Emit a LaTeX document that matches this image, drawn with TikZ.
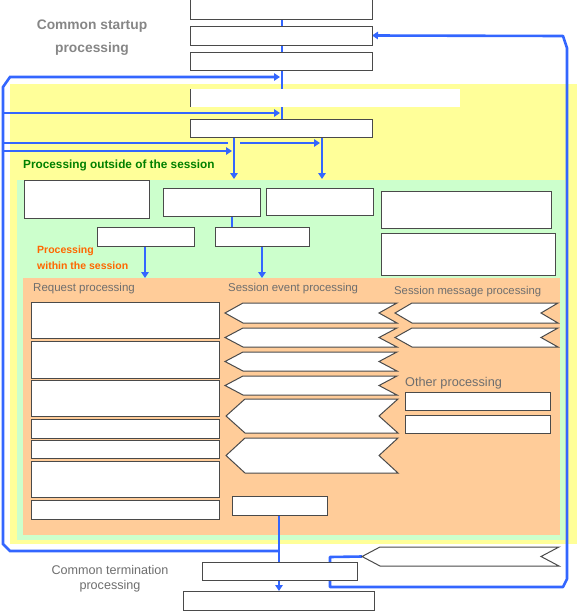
\documentclass[tikz,border=0pt]{standalone}
\usepackage{fontspec}
\setmainfont{Liberation Sans}
\usetikzlibrary{arrows.meta}
\definecolor{flow}{HTML}{3366FF}
\definecolor{ylw}{HTML}{FFFF99}
\definecolor{grn}{HTML}{CCFFCC}
\definecolor{org}{HTML}{FFCC99}
\definecolor{lblgray}{HTML}{6E6E6E}
\definecolor{lbllight}{HTML}{868686}
\definecolor{lblgreen}{HTML}{008000}
\definecolor{lblorange}{HTML}{FF6600}
\definecolor{edge}{HTML}{4A4A4A}
\pgfdeclarelayer{back}
\pgfdeclarelayer{mid}
\pgfsetlayers{back,mid,main}
\tikzset{
  region/.style={draw=none, anchor=north west, inner sep=0pt, outer sep=0pt},
  box/.style={draw=edge, line width=1pt, fill=white, anchor=north west, inner sep=0pt, outer sep=0pt},
  chev/.style={draw=edge, line width=1pt, fill=white, line join=miter},
  flowline/.style={draw=flow, line width=2.6pt},
  flowarrow/.style={flowline, -{Triangle[length=6pt,width=7.5pt]}},
  lbl/.style={text=lblgray, inner sep=0pt, anchor=base west},
}
\newcommand\chevpath[5]{\draw[chev] (#1,{(#3+#4)/2}) -- ({#1+#5},#3) -- (#2,#3) -- ({#2-#5},{(#3+#4)/2}) -- (#2,#4) -- ({#1+#5},#4) -- cycle;}
\begin{document}
\begin{tikzpicture}[x=1pt,y=-1pt]
\useasboundingbox (0,0) rectangle (577,611);
% ---------- background regions
\begin{pgfonlayer}{back}
\node[region, fill=ylw, minimum width=567pt, minimum height=460pt] (ylwreg) at (10,84) {};
\node[region, fill=grn, minimum width=548pt, minimum height=360pt] (grnreg) at (17,180) {};
\node[region, fill=org, minimum width=537pt, minimum height=257pt] (orgreg) at (23,278) {};
\end{pgfonlayer}
% ---------- common startup boxes
\node[box, minimum width=182pt, minimum height=21pt] (t1) at (190,-2) {};
\node[box, minimum width=182pt, minimum height=19pt] (t2) at (190,26) {};
\node[box, minimum width=182pt, minimum height=18pt] (t3) at (190,52) {};
\node[box, draw=none, minimum width=270pt, minimum height=18pt] (t4) at (190,89) {};
\draw[edge, line width=1pt] (t4.north west) -- (t4.south west);
\node[box, minimum width=182pt, minimum height=18pt] (t5) at (190,119) {};
% ---------- outside the session
\node[box, minimum width=125pt, minimum height=38pt] (g1) at (24,180) {};
\node[box, minimum width=97pt, minimum height=28pt] (g2) at (163,188) {};
\node[box, minimum width=107pt, minimum height=27pt] (g3) at (266,188) {};
\node[box, minimum width=170pt, minimum height=37pt] (g4) at (381,191) {};
\node[box, minimum width=174pt, minimum height=42pt] (g5) at (381,233) {};
\node[box, minimum width=97pt, minimum height=19pt] (g6) at (97,227) {};
\node[box, minimum width=94pt, minimum height=19pt] (g7) at (215,227) {};
% ---------- request processing
\node[box, minimum width=188pt, minimum height=36pt] (r1) at (31,302) {};
\node[box, minimum width=188pt, minimum height=37pt] (r2) at (31,341) {};
\node[box, minimum width=188pt, minimum height=36pt] (r3) at (31,380) {};
\node[box, minimum width=188pt, minimum height=19pt] (r4) at (31,419) {};
\node[box, minimum width=188pt, minimum height=18pt] (r5) at (31,440) {};
\node[box, minimum width=188pt, minimum height=36pt] (r6) at (31,461) {};
\node[box, minimum width=188pt, minimum height=19pt] (r7) at (31,500) {};
% ---------- session events
\chevpath{225}{397}{303}{323}{18}
\chevpath{225}{397}{328}{347}{18}
\chevpath{225}{397}{352}{371}{18}
\chevpath{225}{397}{376}{395}{18}
\chevpath{226}{398}{399}{433}{19}
\chevpath{226}{398}{438}{473}{19}
\node[box, minimum width=95pt, minimum height=19pt] (s) at (232,496) {};
% ---------- session messages
\chevpath{395}{558}{303}{323}{17}
\chevpath{395}{558}{328}{347}{17}
% ---------- other processing
\node[box, minimum width=145pt, minimum height=18pt] (o1) at (405,392) {};
\node[box, minimum width=145pt, minimum height=18pt] (o2) at (405,415) {};
% ---------- termination
\chevpath{362}{559}{547}{566}{18}
\coordinate (bct) at (362,556.5);
\node[box, minimum width=155pt, minimum height=18pt] (tb1) at (202,562) {};
\node[box, minimum width=191pt, minimum height=19pt] (tb2) at (183,591) {};
% ---------- labels
\node[lbl, text=lbllight, anchor=base, font=\bfseries\fontsize{13.8}{16}\selectfont] (st1) at (92,29) {Common startup};
\node[lbl, text=lbllight, anchor=base, font=\bfseries\fontsize{13.8}{16}\selectfont] (st2) at (92,52) {processing};
\node[lbl, text=lblgray, anchor=base, font=\fontsize{12.6}{15}\selectfont] (te1) at (110,574.5) {Common termination};
\node[lbl, text=lblgray, anchor=base, font=\fontsize{12.6}{15}\selectfont] (te2) at (110,589.5) {processing};
\node[lbl, text=lblgreen, font=\bfseries\fontsize{11.8}{14}\selectfont] (outl) at (23,168) {Processing outside of the session};
\node[lbl, text=lblorange, font=\bfseries\fontsize{10.5}{13}\selectfont] (in1) at (37,253) {Processing};
\node[lbl, text=lblorange, font=\bfseries\fontsize{10.5}{13}\selectfont] (in2) at (37,269) {within the session};
\node[lbl, font=\fontsize{11.5}{14}\selectfont] (reql) at (33,291.5) {Request processing};
\node[lbl, font=\fontsize{11.4}{14}\selectfont] (sevl) at (228,291) {Session event processing};
\node[lbl, font=\fontsize{11.3}{14}\selectfont] (smsl) at (394,294) {Session message processing};
\node[lbl, font=\fontsize{12.7}{15}\selectfont] (othl) at (405,386) {Other processing};
% ---------- helper x positions
\coordinate (xc) at (282,0);
\coordinate (xa) at (234,0);
\coordinate (xb) at (322,0);
\coordinate (xg2) at (232,0);
\coordinate (xg6) at (145,0);
\coordinate (xg7) at (262,0);
\coordinate (xs) at (279,0);
\coordinate (jL) at (279,551);
% ---------- flow lines
\begin{pgfonlayer}{mid}
\draw[flowline] (t1.south -| xc) -- (t5.north -| xc);
\draw[flowarrow, shorten >=1pt] (t5.south -| xa) -- (grnreg.north -| xa);
\draw[flowarrow, shorten >=1pt] (t5.south -| xb) -- (grnreg.north -| xb);
\draw[flowarrow] (jL) -- (10,551) -- (3,544) -- (3,87) -- (10,77) -- (280,77);
\draw[flowarrow] (3,113) -- (280,113);
\draw[flowline] (3,143) -- (228,143);
\draw[flowarrow] (240,143) -- (320,143);
\draw[flowarrow] (3,151) -- (232,151);
\draw[flowline] (g2.south -| xg2) -- (g7.north -| xg2);
\draw[flowarrow] (g6.south -| xg6) -- (orgreg.north -| xg6);
\draw[flowarrow] (g7.south -| xg7) -- (orgreg.north -| xg7);
\draw[flowline] (s.south -| xs) -- (tb1.north -| xs);
\draw[flowarrow] (tb1.south -| xs) -- (tb2.north -| xs);
\draw[flowarrow, line join=round] (bct) -- (330,557) -- (330,587) -- (563,587) -- (567,579) -- (567,48) -- (563,36) -- (t2.east);
\end{pgfonlayer}
\end{tikzpicture}
\end{document}
